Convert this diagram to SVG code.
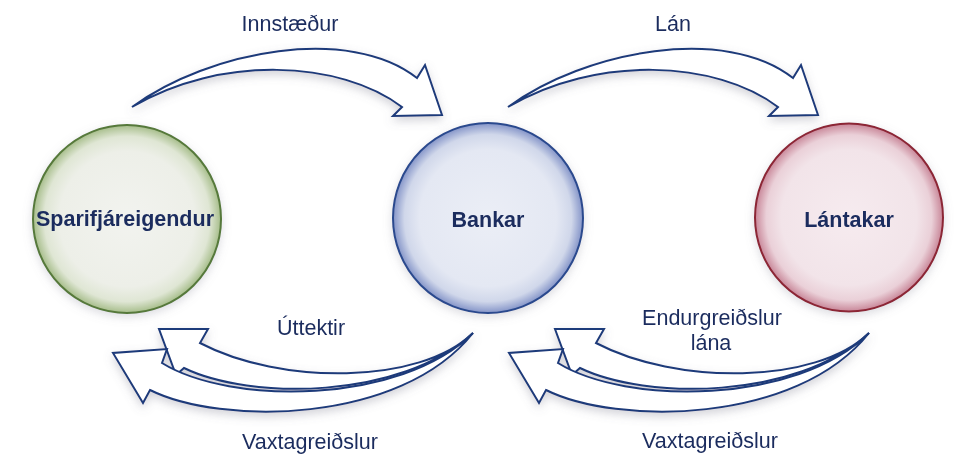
<svg xmlns="http://www.w3.org/2000/svg" width="976" height="470" viewBox="0 0 976 470">
  <defs>
    <style>
      .node-label { font-family: "Liberation Sans", Arial, sans-serif; font-weight: bold; font-size: 21.5px; fill: #1b2c5e; text-anchor: middle; }
      .flow-label { font-family: "Liberation Sans", Arial, sans-serif; font-size: 21.5px; fill: #1b2c5e; text-anchor: middle; }
      .arrow { fill: #ffffff; stroke: #1f3a7a; stroke-width: 2; stroke-linejoin: miter; }
      .circle { stroke-width: 2; }
    </style>
    <filter id="shadow" x="-20%" y="-30%" width="140%" height="170%">
      <feDropShadow dx="0" dy="4" stdDeviation="5" flood-color="#707080" flood-opacity="0.3"/>
    </filter>
    <filter id="cshadow" x="-20%" y="-20%" width="140%" height="140%">
      <feDropShadow dx="0" dy="3" stdDeviation="5" flood-color="#808090" flood-opacity="0.28"/>
    </filter>
    <radialGradient id="gGreen" cx="0.5" cy="0.5" r="0.5">
      <stop offset="0" stop-color="#f2f3ef"/>
      <stop offset="0.72" stop-color="#edefe8"/>
      <stop offset="0.88" stop-color="#dfe6d4"/>
      <stop offset="1" stop-color="#a6bd8a"/>
    </radialGradient>
    <radialGradient id="gBlue" cx="0.5" cy="0.5" r="0.5">
      <stop offset="0" stop-color="#ebeef6"/>
      <stop offset="0.72" stop-color="#e4e8f3"/>
      <stop offset="0.88" stop-color="#d0d7ea"/>
      <stop offset="1" stop-color="#8494c8"/>
    </radialGradient>
    <radialGradient id="gRed" cx="0.5" cy="0.5" r="0.5">
      <stop offset="0" stop-color="#f6ebef"/>
      <stop offset="0.72" stop-color="#f2e4e9"/>
      <stop offset="0.88" stop-color="#ead0d8"/>
      <stop offset="1" stop-color="#c88698"/>
    </radialGradient>
    <path id="arrowTop" d="M132,107 C210,50 350,25 417,78 L425,65 L442,115 L393,116 L402,107 C340,60 220,55 132,107 Z"/>
    <path id="arrowBot1" d="M473,333 C420,385 280,385 200,343 L208,329 L159,329 L176,375 L184,368 C250,400 400,400 473,333 Z"/>
    <path id="arrowBot2" d="M473,333 C400,405 230,405 162,363 L167,349 L113,353 L143,403 L150,390 C220,425 400,425 473,333 Z"/>
  </defs>

  <rect x="0" y="0" width="976" height="470" fill="#ffffff"/>

  <g id="connectors" filter="url(#shadow)">
    <use href="#arrowTop" class="arrow"/>
    <use href="#arrowTop" class="arrow" transform="translate(376,0)"/>
    <use href="#arrowBot1" class="arrow"/>
    <use href="#arrowBot2" class="arrow"/>
    <use href="#arrowBot1" class="arrow" transform="translate(396,0)"/>
    <use href="#arrowBot2" class="arrow" transform="translate(396,0)"/>
  </g>

  <g id="node-sparifjareigendur">
    <circle class="circle" cx="127" cy="219" r="94" fill="url(#gGreen)" stroke="#56793a" filter="url(#cshadow)"/>
    <text class="node-label" x="125" y="226">Sparifjáreigendur</text>
  </g>
  <g id="node-bankar">
    <circle class="circle" cx="488" cy="218" r="95" fill="url(#gBlue)" stroke="#2b4a8e" filter="url(#cshadow)"/>
    <text class="node-label" x="488" y="227">Bankar</text>
  </g>
  <g id="node-lantakar">
    <circle class="circle" cx="849" cy="217.5" r="94" fill="url(#gRed)" stroke="#8c2535" filter="url(#cshadow)"/>
    <text class="node-label" x="849" y="227">Lántakar</text>
  </g>

  <g id="labels">
    <text class="flow-label" x="290" y="31">Innstæður</text>
    <text class="flow-label" x="673" y="31">Lán</text>
    <text class="flow-label" x="311" y="335">Úttektir</text>
    <text class="flow-label" x="310" y="449">Vaxtagreiðslur</text>
    <text class="flow-label" x="712" y="325">Endurgreiðslur</text>
    <text class="flow-label" x="711" y="350">lána</text>
    <text class="flow-label" x="710" y="448">Vaxtagreiðslur</text>
  </g>
</svg>
